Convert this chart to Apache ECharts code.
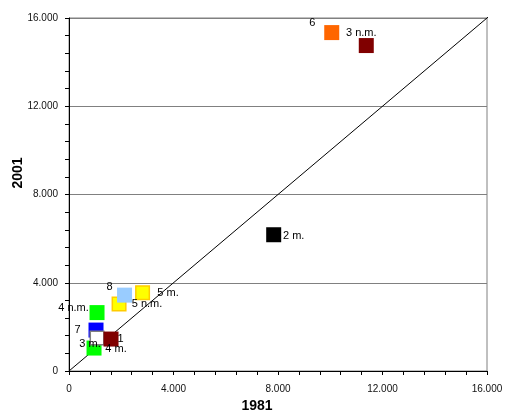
<!DOCTYPE html>
<html><head><meta charset="utf-8">
<script src="https://cdn.jsdelivr.net/npm/echarts@6/dist/echarts.min.js"></script>
<style>html,body{margin:0;padding:0;background:#fff}#c{width:509px;height:412px}</style>
</head><body><div id="c"></div>
<script>
// Data
const pointLabels = ['4 m.', '7', '3 m.', '1', '4 n.m.', '5 n.m.', '8', '5 m.', '2 m.', '6', '3 n.m.'];
const values1981 = [958, 1034, 1073, 1609, 1073, 1916, 2126, 2816, 7835, 10057, 11379];
const values2001 = [1040, 1855, 1493, 1448, 2647, 3032, 3439, 3552, 6176, 15339, 14751];
const diagonalX = [0, 16250];
const diagonalY = [0, 16250];
const axisTitleX = '1981';
const axisTitleY = '2001';

// Styles (kept separate from data)
const fillColors = ['#00FF00', '#0000FF', '#FFFFFF', '#800000', '#00FF00', '#FFFF00', '#99CCFF', '#FFFF00', '#000000', '#FF6600', '#800000'];
const borderColors = [null, null, '#808080', null, null, '#FFCC00', null, '#FFCC00', null, null, null];
const labelOffsets = [[22, 1], [-18.5, -0.5], [-7, 5.5], [9.5, 0], [-23.5, -4.5], [28, 0], [-15, -8], [25.5, 0.5], [20, 1.5], [-19.5, -9.5], [-5, -12.5]];

const FONT = '"Liberation Sans", Arial, sans-serif';

const scatterData = pointLabels.map((lab, i) => {
  const hasBorder = !!borderColors[i];
  return {
    value: [values1981[i], values2001[i]],
    name: lab,
    symbolSize: hasBorder ? 13.5 : 15,
    itemStyle: {
      color: fillColors[i],
      opacity: 1,
      borderColor: hasBorder ? borderColors[i] : fillColors[i],
      borderWidth: hasBorder ? 1.5 : 0
    },
    label: {
      show: true,
      formatter: lab,
      position: 'inside',
      offset: labelOffsets[i],
      align: 'center',
      verticalAlign: 'middle',
      color: '#000',
      fontSize: 11,
      fontFamily: FONT
    }
  };
});

const chart = echarts.init(document.getElementById('c'), null, {renderer: 'canvas'});
chart.setOption({
  animation: false,
  backgroundColor: '#fff',
  grid: {left: 69, top: 18, width: 418, height: 353, show: true, borderColor: '#808080', borderWidth: 1, backgroundColor: 'transparent'},
  xAxis: {
    type: 'value', min: 0, max: 16000, interval: 4000,
    axisLine: {show: true, onZero: false, lineStyle: {color: '#000', width: 1}},
    axisTick: {show: true, length: 4, lineStyle: {color: '#000'}},
    minorTick: {show: true, splitNumber: 5, length: 4, lineStyle: {color: '#000'}},
    splitLine: {show: false},
    axisLabel: {margin: 13, fontSize: 10, fontFamily: FONT, color: '#111',
      formatter: v => v === 0 ? '0' : (v / 1000).toFixed(3)}
  },
  yAxis: {
    type: 'value', min: 0, max: 16000, interval: 4000,
    axisLine: {show: true, onZero: false, lineStyle: {color: '#000', width: 1}},
    axisTick: {show: true, length: 4, lineStyle: {color: '#000'}},
    minorTick: {show: true, splitNumber: 5, length: 4, lineStyle: {color: '#000'}},
    splitLine: {show: true, lineStyle: {color: '#808080', width: 1}},
    axisLabel: {margin: 11, fontSize: 10, fontFamily: FONT, color: '#111',
      formatter: v => v === 0 ? '0' : (v / 1000).toFixed(3)}
  },
  graphic: [
    {type: 'text', x: 257, y: 406, style: {text: axisTitleX, font: 'bold 14px ' + FONT, textAlign: 'center', textVerticalAlign: 'middle', fill: '#000'}},
    {type: 'text', x: 18, y: 173, rotation: Math.PI / 2, style: {text: axisTitleY, font: 'bold 14px ' + FONT, textAlign: 'center', textVerticalAlign: 'middle', fill: '#000'}}
  ],
  series: [
    {
      type: 'line', silent: true, clip: false, symbol: 'none',
      data: diagonalX.map((x, i) => [x, diagonalY[i]]),
      lineStyle: {color: '#000', width: 1}, z: 1
    },
    {
      type: 'scatter', symbol: 'rect', clip: false, z: 3,
      data: scatterData
    }
  ]
});
</script>
</body></html>
